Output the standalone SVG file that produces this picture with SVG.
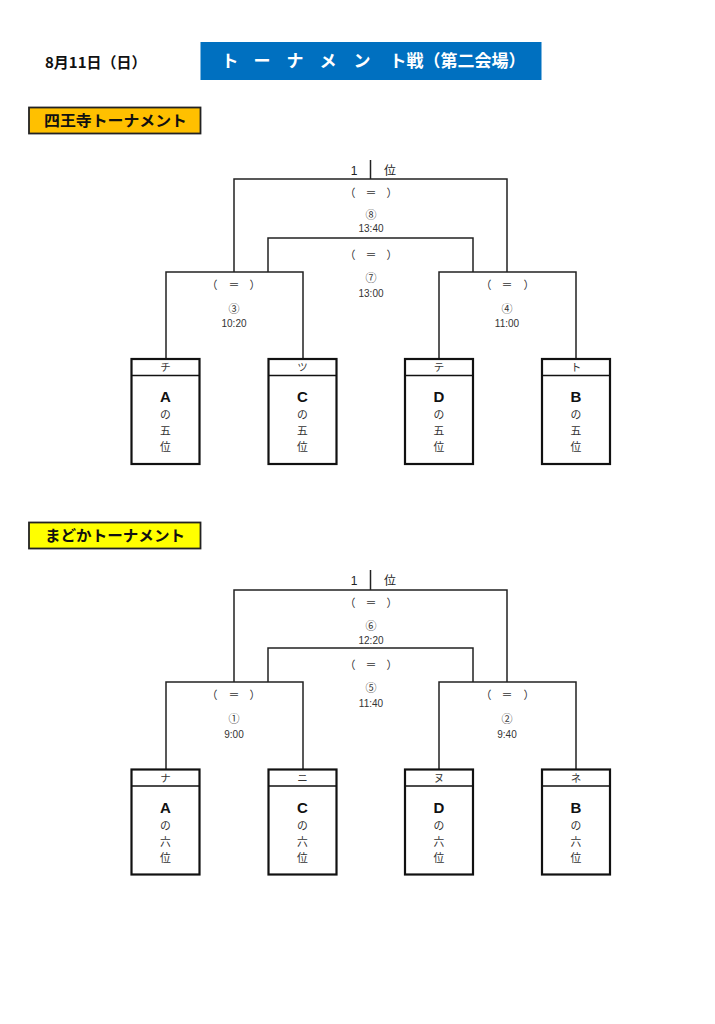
<svg xmlns="http://www.w3.org/2000/svg" width="715" height="1024" viewBox="0 0 715 1024">
<style>
.bg{fill:#ffffff}
.ln{fill:none;stroke:#222;stroke-width:1.5}
.box{fill:#fff;stroke:#111;stroke-width:2.2}
.hd{stroke:#111;stroke-width:1.3}
.jp{font-family:"Noto Sans CJK JP","Noto Sans",sans-serif}
.lat{font-family:"Liberation Sans",Arial,sans-serif}
.sm{font-size:11px;fill:#333;text-anchor:middle}
.tm{font-size:10px;fill:#333;text-anchor:middle}
.kana{font-size:10.5px;fill:#333;text-anchor:middle}
.big{font-size:15px;font-weight:bold;fill:#111;text-anchor:middle}
.bt{font-size:10.8px;fill:#333;text-anchor:middle}
.rank{font-size:12px;fill:#222}
</style>
<rect class="bg" x="0" y="0" width="715" height="1024"/>

<g id="header">
  <text class="jp" x="45" y="68" font-size="15" font-weight="bold" fill="#111">8月11日（日）</text>
  <rect x="200.5" y="42" width="341" height="38" fill="#0070C0"/>
  <text class="jp" y="67" font-size="17" font-weight="bold" fill="#fff" text-anchor="middle" x="230 262 295 328 362">トーナメン</text>
  <text class="jp" x="389.5" y="67" font-size="17" font-weight="bold" fill="#fff">ト戦（第二会場）</text>
</g>

<g id="title-shitennoji">
  <rect x="29" y="107.5" width="171.5" height="26" fill="#FFC000" stroke="#222" stroke-width="1.8"/>
  <text class="jp" x="44" y="126" font-size="15" font-weight="bold" fill="#111" textLength="143" lengthAdjust="spacingAndGlyphs">四王寺トーナメント</text>
</g>

<g id="title-madoka">
  <rect x="29" y="522.5" width="171.5" height="26" fill="#FFFF00" stroke="#222" stroke-width="1.8"/>
  <text class="jp" x="45" y="541" font-size="15" font-weight="bold" fill="#111" textLength="140" lengthAdjust="spacingAndGlyphs">まどかトーナメント</text>
</g>

<g id="connectors">
  <path class="ln" d="M370.5,160 V179"/>
  <path class="ln" d="M234,272 V179 H507 V272"/>
  <path class="ln" d="M268,272 V238 H473 V272"/>
  <path class="ln" d="M166,358 V272 H303 V358"/>
  <path class="ln" d="M439,358 V272 H576 V358"/>
  <path class="ln" d="M370.5,570 V590"/>
  <path class="ln" d="M234,682 V590 H507 V682"/>
  <path class="ln" d="M268,682 V648 H473 V682"/>
  <path class="ln" d="M166,769 V682 H303 V769"/>
  <path class="ln" d="M439,769 V682 H576 V769"/>
</g>

<g id="labels-top">
  <text class="lat rank" x="354" y="175" text-anchor="middle">1</text>
  <text class="jp rank" x="390" y="175" text-anchor="middle">位</text>
  <text class="jp sm" y="197" x="350 371 392">（＝）</text>
  <text class="jp sm" x="371" y="219">⑧</text>
  <text class="lat tm" x="371" y="232">13:40</text>
  <text class="jp sm" y="259" x="350 371 392">（＝）</text>
  <text class="jp sm" x="371" y="282">⑦</text>
  <text class="lat tm" x="371" y="297">13:00</text>
  <text class="jp sm" y="289" x="212 234 255">（＝）</text>
  <text class="jp sm" x="234" y="313">③</text>
  <text class="lat tm" x="234" y="327">10:20</text>
  <text class="jp sm" y="289" x="486 507 529">（＝）</text>
  <text class="jp sm" x="507" y="313">④</text>
  <text class="lat tm" x="507" y="327">11:00</text>
</g>

<g id="labels-bottom">
  <text class="lat rank" x="354" y="585" text-anchor="middle">1</text>
  <text class="jp rank" x="390" y="585" text-anchor="middle">位</text>
  <text class="jp sm" y="607" x="350 371 392">（＝）</text>
  <text class="jp sm" x="371" y="630">⑥</text>
  <text class="lat tm" x="371" y="644">12:20</text>
  <text class="jp sm" y="669" x="350 371 392">（＝）</text>
  <text class="jp sm" x="371" y="692">⑤</text>
  <text class="lat tm" x="371" y="707">11:40</text>
  <text class="jp sm" y="699" x="212 234 255">（＝）</text>
  <text class="jp sm" x="234" y="723">①</text>
  <text class="lat tm" x="234" y="738">9:00</text>
  <text class="jp sm" y="699" x="486 507 529">（＝）</text>
  <text class="jp sm" x="507" y="723">②</text>
  <text class="lat tm" x="507" y="738">9:40</text>
</g>

<g id="node-chi">
  <rect class="box" x="131.5" y="359" width="68" height="105"/>
  <line class="hd" x1="131.5" y1="375.5" x2="199.5" y2="375.5"/>
  <text class="jp kana" x="165.5" y="371">チ</text>
  <text class="lat big" x="165.5" y="402">A</text>
  <text class="jp bt" x="165.5" y="419">の</text>
  <text class="jp bt" x="165.5" y="435">五</text>
  <text class="jp bt" x="165.5" y="451">位</text>
</g>
<g id="node-tsu">
  <rect class="box" x="268.5" y="359" width="68" height="105"/>
  <line class="hd" x1="268.5" y1="375.5" x2="336.5" y2="375.5"/>
  <text class="jp kana" x="302.5" y="371">ツ</text>
  <text class="lat big" x="302.5" y="402">C</text>
  <text class="jp bt" x="302.5" y="419">の</text>
  <text class="jp bt" x="302.5" y="435">五</text>
  <text class="jp bt" x="302.5" y="451">位</text>
</g>
<g id="node-te">
  <rect class="box" x="405" y="359" width="68" height="105"/>
  <line class="hd" x1="405" y1="375.5" x2="473" y2="375.5"/>
  <text class="jp kana" x="439" y="371">テ</text>
  <text class="lat big" x="439" y="402">D</text>
  <text class="jp bt" x="439" y="419">の</text>
  <text class="jp bt" x="439" y="435">五</text>
  <text class="jp bt" x="439" y="451">位</text>
</g>
<g id="node-to">
  <rect class="box" x="542" y="359" width="68" height="105"/>
  <line class="hd" x1="542" y1="375.5" x2="610" y2="375.5"/>
  <text class="jp kana" x="576" y="371">ト</text>
  <text class="lat big" x="576" y="402">B</text>
  <text class="jp bt" x="576" y="419">の</text>
  <text class="jp bt" x="576" y="435">五</text>
  <text class="jp bt" x="576" y="451">位</text>
</g>

<g id="node-na">
  <rect class="box" x="131.5" y="769.5" width="68" height="105"/>
  <line class="hd" x1="131.5" y1="786" x2="199.5" y2="786"/>
  <text class="jp kana" x="165.5" y="781.5">ナ</text>
  <text class="lat big" x="165.5" y="812.5">A</text>
  <text class="jp bt" x="165.5" y="829.5">の</text>
  <text class="jp bt" x="165.5" y="845.5">六</text>
  <text class="jp bt" x="165.5" y="861.5">位</text>
</g>
<g id="node-ni">
  <rect class="box" x="268.5" y="769.5" width="68" height="105"/>
  <line class="hd" x1="268.5" y1="786" x2="336.5" y2="786"/>
  <text class="jp kana" x="302.5" y="781.5">ニ</text>
  <text class="lat big" x="302.5" y="812.5">C</text>
  <text class="jp bt" x="302.5" y="829.5">の</text>
  <text class="jp bt" x="302.5" y="845.5">六</text>
  <text class="jp bt" x="302.5" y="861.5">位</text>
</g>
<g id="node-nu">
  <rect class="box" x="405" y="769.5" width="68" height="105"/>
  <line class="hd" x1="405" y1="786" x2="473" y2="786"/>
  <text class="jp kana" x="439" y="781.5">ヌ</text>
  <text class="lat big" x="439" y="812.5">D</text>
  <text class="jp bt" x="439" y="829.5">の</text>
  <text class="jp bt" x="439" y="845.5">六</text>
  <text class="jp bt" x="439" y="861.5">位</text>
</g>
<g id="node-ne">
  <rect class="box" x="542" y="769.5" width="68" height="105"/>
  <line class="hd" x1="542" y1="786" x2="610" y2="786"/>
  <text class="jp kana" x="576" y="781.5">ネ</text>
  <text class="lat big" x="576" y="812.5">B</text>
  <text class="jp bt" x="576" y="829.5">の</text>
  <text class="jp bt" x="576" y="845.5">六</text>
  <text class="jp bt" x="576" y="861.5">位</text>
</g>
</svg>
